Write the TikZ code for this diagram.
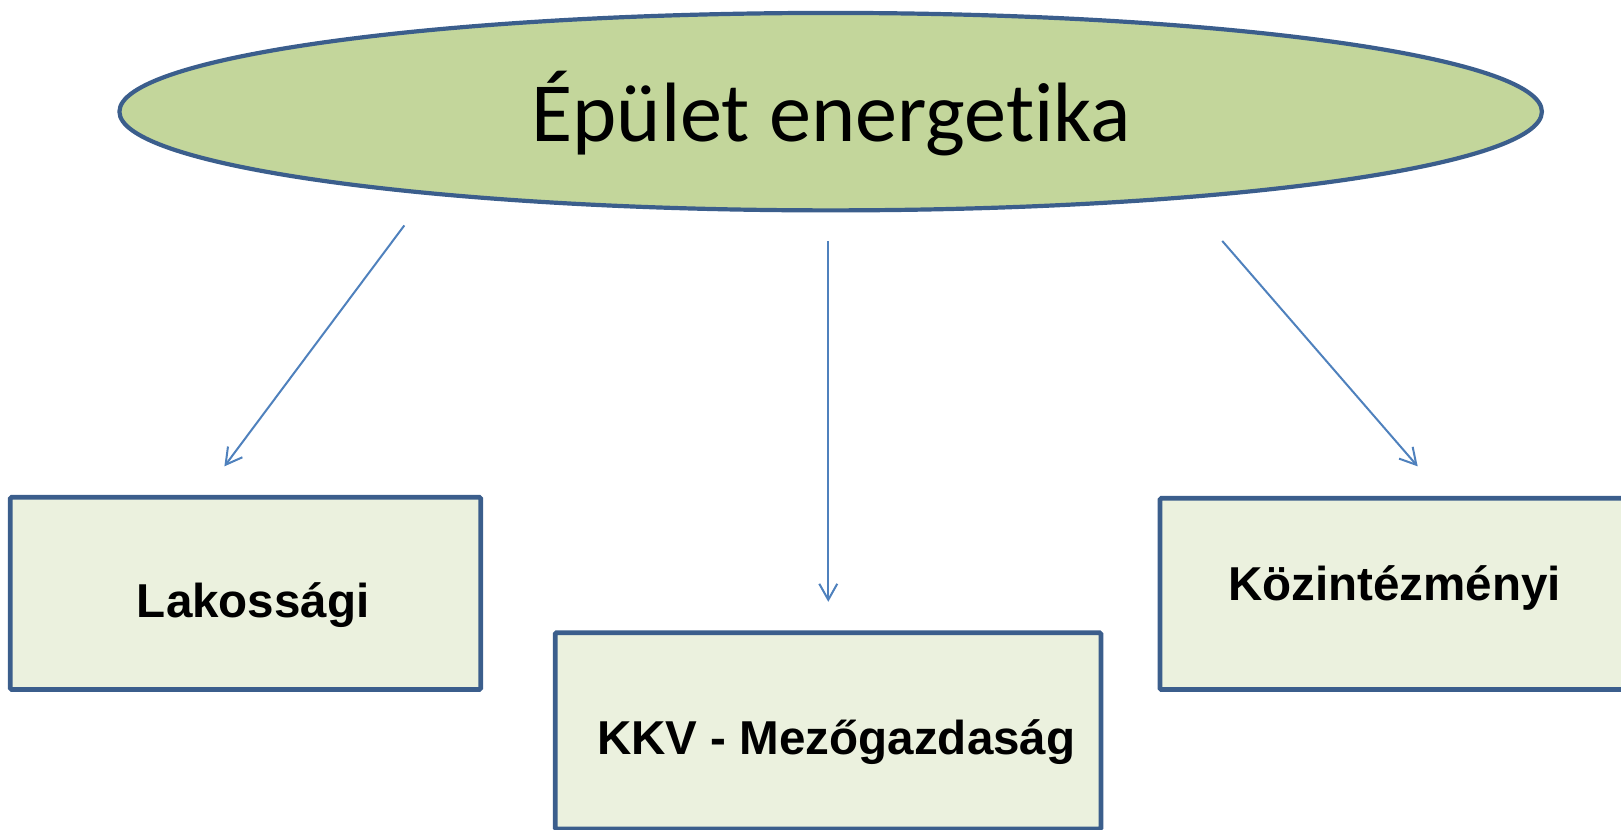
\documentclass[tikz,border=0pt]{standalone}
\usepackage{fontspec}
\setmainfont{Liberation Sans}
\newfontfamily\titlefont[Ligatures=NoCommon]{Carlito}
\usetikzlibrary{arrows.meta,shapes.geometric}
\definecolor{edgeblue}{HTML}{3B5E8C}
\definecolor{arrowblue}{HTML}{4F81BD}
\definecolor{ellfill}{HTML}{C3D69B}
\definecolor{boxfill}{HTML}{EBF1DE}
\begin{document}
\begin{tikzpicture}[x=1pt,y=-1pt,scale=1.0338,every node/.append style={transform shape},
  boxstyle/.style={draw=edgeblue,fill=boxfill,line width=4.8pt,rounded corners=1.5pt},
  lbl/.style={font=\fontsize{46}{50}\selectfont\bfseries,anchor=base,inner sep=0pt},
  conn/.style={draw=arrowblue,line width=2pt,-{Straight Barb[length=16pt,width=18pt,line width=2pt]}}]
\useasboundingbox (0,0) rectangle (1568,802);
% title ellipse
\node[ellipse,draw=edgeblue,fill=ellfill,line width=4.2pt,minimum width=1376pt,minimum height=191pt,inner sep=0pt] (top) at (803.5,108) {};
\node[font=\titlefont\fontsize{81.5}{90}\selectfont,anchor=base,inner sep=0pt] (title) at (804,137) {Épület energetika};
% boxes
\node[boxstyle,minimum width=455pt,minimum height=186pt,inner sep=0pt] (lak) at (237.5,574) {};
\node[boxstyle,minimum width=528pt,minimum height=190pt,inner sep=0pt] (kkv) at (801,707) {};
\node[boxstyle,minimum width=470pt,minimum height=185pt,inner sep=0pt] (koz) at (1357,574.5) {};
\node[lbl] (laktxt) at (245,597) {Lakossági};
\node[lbl] (kkvtxt) at (809,730) {KKV - Mezőgazdaság};
\node[lbl] (koztxt) at (1349,581) {Közintézményi};
% arrows
\coordinate (s1) at (391,218);
\coordinate (e1) at (217,451);
\coordinate (s2) at (801,233);
\coordinate (e2) at (801,582);
\coordinate (s3) at (1182,233);
\coordinate (e3) at (1371,451);
\draw[conn] (s1) -- (e1);
\draw[conn] (s2) -- (e2);
\draw[conn] (s3) -- (e3);
\end{tikzpicture}
\end{document}
